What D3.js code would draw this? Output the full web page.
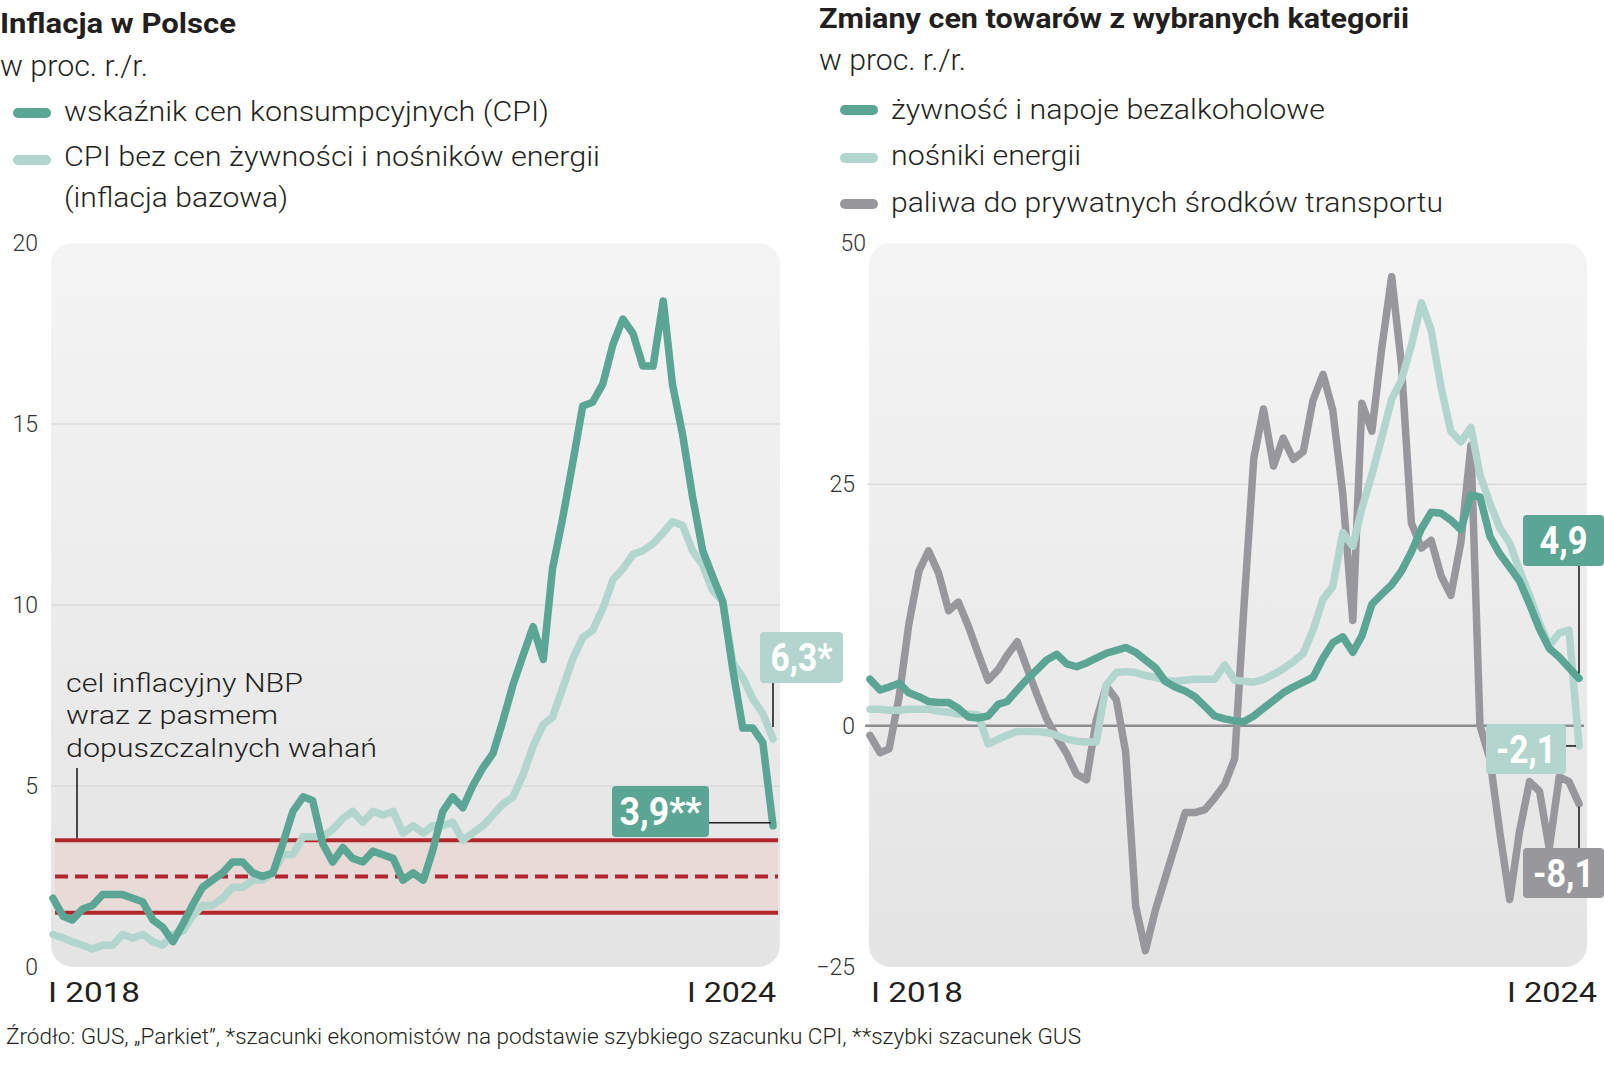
<!DOCTYPE html>
<html>
<head>
<meta charset="utf-8">
<script src="https://cdn.jsdelivr.net/npm/d3@7"></script>
<style>
  body { margin: 0; background: #fff; }
  text { font-family: Roboto, "Open Sans", sans-serif; fill: #231f20; }
</style>
</head>
<body>
<script>
// months I 2018 .. I 2024
const months = d3.timeMonth.range(new Date(2018, 0, 1), new Date(2024, 1, 1));

// left chart, % y/y
const cpi = [
  1.9, 1.4, 1.3, 1.6, 1.7, 2.0, 2.0, 2.0, 1.9, 1.8, 1.3, 1.1,
  0.7, 1.2, 1.7, 2.2, 2.4, 2.6, 2.9, 2.9, 2.6, 2.5, 2.6, 3.4,
  4.3, 4.7, 4.6, 3.4, 2.9, 3.3, 3.0, 2.9, 3.2, 3.1, 3.0, 2.4,
  2.6, 2.4, 3.2, 4.3, 4.7, 4.4, 5.0, 5.5, 5.9, 6.8, 7.8, 8.6,
  9.4, 8.5, 11.0, 12.4, 13.9, 15.5, 15.6, 16.1, 17.2, 17.9, 17.5, 16.6,
  16.6, 18.4, 16.1, 14.7, 13.0, 11.5, 10.8, 10.1, 8.2, 6.6, 6.6, 6.2,
  3.9
];
const core = [
  0.9, 0.8, 0.7, 0.6, 0.5, 0.6, 0.6, 0.9, 0.8, 0.9, 0.7, 0.6,
  0.9, 1.0, 1.4, 1.7, 1.7, 1.9, 2.2, 2.2, 2.4, 2.4, 2.6, 3.1,
  3.1, 3.6, 3.6, 3.6, 3.8, 4.1, 4.3, 4.0, 4.3, 4.2, 4.3, 3.7,
  3.9, 3.7, 3.9, 3.9, 4.0, 3.5, 3.7, 3.9, 4.2, 4.5, 4.7, 5.3,
  6.1, 6.7, 6.9, 7.7, 8.5, 9.1, 9.3, 9.9, 10.7, 11.0, 11.4, 11.5,
  11.7, 12.0, 12.3, 12.2, 11.5, 11.1, 10.4, 10.1, 8.4, 8.0, 7.4, 7.0,
  6.3
];
// NBP target band
const target = 2.5, bandLow = 1.5, bandHigh = 3.5;

// right chart, % y/y
const food = [
  4.8, 3.7, 4.0, 4.4, 3.4, 3.0, 2.5, 2.4, 2.4, 1.8, 0.9, 0.8,
  1.0, 2.2, 2.5, 3.7, 4.8, 5.8, 6.8, 7.4, 6.4, 6.1, 6.5, 7.0,
  7.5, 7.8, 8.1, 7.6, 6.8, 6.0, 4.6, 4.0, 3.6, 3.0, 2.0, 1.0,
  0.7, 0.5, 0.4, 1.0, 1.8, 2.6, 3.4, 4.0, 4.5, 5.0, 7.0, 8.6,
  9.2, 7.6, 9.3, 12.6, 13.6, 14.6, 16.0, 18.0, 20.4, 22.1, 22.0, 21.3,
  20.3, 23.9, 23.7, 19.6, 17.8, 16.4, 15.0, 12.6, 10.0, 8.0, 7.1, 6.0,
  4.9
];
const energy = [
  1.7, 1.7, 1.6, 1.6, 1.7, 1.7, 1.7, 1.5, 1.4, 1.2, 1.2, 1.1,
  -1.9, -1.4, -1.0, -0.6, -0.6, -0.6, -0.7, -1.0, -1.4, -1.6, -1.7, -1.7,
  4.2, 5.5, 5.6, 5.5, 5.2, 5.0, 4.7, 4.6, 4.7, 4.8, 4.8, 4.8,
  6.3, 4.7, 4.6, 4.5, 4.8, 5.3, 5.9, 6.6, 7.5, 9.9, 13.1, 14.4,
  20.0, 18.6, 22.5, 26.0, 29.8, 33.8, 35.8, 39.4, 43.8, 41.0, 35.0, 30.5,
  29.4, 30.9, 26.0, 23.0, 20.5, 18.9, 16.1, 13.5, 10.6, 8.3, 9.6, 9.9,
  -2.1
];
const fuel = [
  -1.0, -2.8, -2.4, 3.0, 10.5, 16.0, 18.1, 15.8, 11.9, 12.8, 10.3, 7.5,
  4.7, 5.8, 7.3, 8.7, 6.0, 3.2, 0.7, -1.2, -2.9, -5.0, -5.6, 0.5,
  4.1, 2.7, -2.7, -18.7, -23.3, -19.1, -15.8, -12.4, -9.0, -9.0, -8.7, -7.5,
  -6.1, -3.4, 12.0, 27.7, 32.8, 26.9, 29.8, 27.6, 28.4, 33.7, 36.4, 32.7,
  24.0, 10.9, 33.4, 30.5, 39.0, 46.5, 37.5, 21.0, 18.4, 19.2, 15.5, 13.5,
  19.0, 29.0, 0.0, -3.5, -11.0, -18.0, -11.0, -5.8, -6.8, -12.7, -5.3, -5.8,
  -8.1
];

const leftTicks = [0, 5, 10, 15, 20];
const rightTicks = [-25, 0, 25, 50];

const dark = '#5ba595', light = '#b2d5cd', grey = '#98989c', red = '#b3272c';

const svg = d3.select(document.body).append('svg')
  .attr('width', 1604).attr('height', 1080);

const defs = svg.append('defs');
const grad = defs.append('linearGradient').attr('id', 'panel')
  .attr('x1', 0).attr('y1', 0).attr('x2', 0).attr('y2', 1);
grad.append('stop').attr('offset', '0%').attr('stop-color', '#f4f4f4');
grad.append('stop').attr('offset', '100%').attr('stop-color', '#e4e4e4');

function txt(s, x, y, size, weight, len, anchor) {
  const t = svg.append('text').attr('x', x).attr('y', y)
    .attr('font-size', size).attr('font-weight', weight)
    .attr('text-anchor', anchor || 'start').text(s);
  if (len) t.attr('textLength', len).attr('lengthAdjust', 'spacingAndGlyphs');
  return t;
}

function swatch(x, y, color) {
  svg.append('line')
    .attr('x1', x).attr('x2', x + 28).attr('y1', y).attr('y2', y)
    .attr('stroke', color).attr('stroke-width', 10).attr('stroke-linecap', 'round');
}

function box(x, y, w, h, fill, label, tw) {
  svg.append('rect').attr('x', x).attr('y', y).attr('width', w).attr('height', h)
    .attr('rx', 4).attr('fill', fill);
  svg.append('text').attr('x', x + w / 2).attr('y', y + h / 2 + 13.5)
    .attr('text-anchor', 'middle').attr('font-size', 38).attr('font-weight', 700)
    .attr('textLength', tw).attr('lengthAdjust', 'spacingAndGlyphs')
    .style('fill', '#fff').text(label);
}

function leader(x1, y1, x2, y2) {
  svg.append('line').attr('x1', x1).attr('y1', y1).attr('x2', x2).attr('y2', y2)
    .attr('stroke', '#231f20').attr('stroke-width', 1.6);
}

// ---------- titles and legends
txt('Inflacja w Polsce', 0, 33, 27, 700, 236);
txt('w proc. r./r.', 0, 76, 29, 300, 148);
swatch(18, 113, dark);
txt('wskaźnik cen konsumpcyjnych (CPI)', 64, 121, 28, 300, 485);
swatch(18, 160, light);
txt('CPI bez cen żywności i nośników energii', 64, 166, 28, 300, 536);
txt('(inflacja bazowa)', 64, 207, 28, 300, 224);

txt('Zmiany cen towarów z wybranych kategorii', 819, 28, 27, 700, 590);
txt('w proc. r./r.', 819, 70, 29, 300, 147);
swatch(845, 110, dark);
txt('żywność i napoje bezalkoholowe', 891, 119, 28, 300, 434);
swatch(845, 158, light);
txt('nośniki energii', 891, 165, 28, 300, 190);
swatch(845, 204, grey);
txt('paliwa do prywatnych środków transportu', 891, 212, 28, 300, 552);

// ---------- left chart
const xL = d3.scaleTime().domain([months[0], months[72]]).range([53, 773]);
const yL = d3.scaleLinear().domain([0, 20]).range([967, 243]);

svg.append('rect').attr('x', 51).attr('y', 243).attr('width', 729).attr('height', 724)
  .attr('rx', 22).attr('fill', 'url(#panel)');

svg.append('g').selectAll('line').data(leftTicks.filter(d => d > 0 && d < 20)).join('line')
  .attr('x1', 51).attr('x2', 780).attr('y1', d => yL(d)).attr('y2', d => yL(d))
  .attr('stroke', '#d8dbde').attr('stroke-width', 1.5);

const axL = svg.append('g').attr('transform', 'translate(38,0)')
  .call(d3.axisLeft(yL).tickValues(leftTicks).tickSize(0).tickPadding(0));
axL.select('.domain').remove();
axL.selectAll('text').attr('font-size', 23).attr('font-weight', 300)
  .attr('font-family', 'Roboto, sans-serif').style('fill', '#333');

// target band
svg.append('rect').attr('x', 55).attr('width', 723)
  .attr('y', yL(bandHigh)).attr('height', yL(bandLow) - yL(bandHigh))
  .attr('fill', '#e7dad7');
[bandLow, bandHigh].forEach(v => {
  svg.append('line').attr('x1', 55).attr('x2', 778).attr('y1', yL(v)).attr('y2', yL(v))
    .attr('stroke', red).attr('stroke-width', 4);
});
svg.append('line').attr('x1', 55).attr('x2', 778).attr('y1', yL(target)).attr('y2', yL(target))
  .attr('stroke', red).attr('stroke-width', 4).attr('stroke-dasharray', '13 7');

const lineL = d3.line().x((d, i) => xL(months[i])).y(d => yL(d));
[[core, light], [cpi, dark]].forEach(([s, c]) => {
  svg.append('path').datum(s).attr('d', lineL)
    .attr('fill', 'none').attr('stroke', c).attr('stroke-width', 7.5)
    .attr('stroke-linejoin', 'round').attr('stroke-linecap', 'round');
});

// annotation
txt('cel inflacyjny NBP', 66, 692, 26, 300, 237);
txt('wraz z pasmem', 66, 724, 26, 300, 212);
txt('dopuszczalnych wahań', 66, 757, 26, 300, 311);
leader(77, 768, 77, yL(bandHigh) - 2);

// end labels
const lastL = xL(months[72]);
box(760, 632, 83, 51, light, '6,3*', 62);
leader(lastL, 683, lastL, yL(core[72]) - 12);
box(612, 786, 97, 51, dark, '3,9**', 82);
leader(709, yL(cpi[72]) - 3, lastL - 2, yL(cpi[72]) - 3);

txt('I 2018', 48, 1002, 28, 400, 92);
txt('I 2024', 776, 1002, 28, 400, 89, 'end');

// ---------- right chart
const xR = d3.scaleTime().domain([months[0], months[72]]).range([870, 1579]);
const yR = d3.scaleLinear().domain([-25, 50]).range([967, 243]);

svg.append('rect').attr('x', 869).attr('y', 243).attr('width', 718).attr('height', 724)
  .attr('rx', 22).attr('fill', 'url(#panel)');

svg.append('line').attr('x1', 867).attr('x2', 1586).attr('y1', yR(25)).attr('y2', yR(25))
  .attr('stroke', '#d8dbde').attr('stroke-width', 1.5);
svg.append('line').attr('x1', 865).attr('x2', 1584).attr('y1', yR(0)).attr('y2', yR(0))
  .attr('stroke', '#8d8d8f').attr('stroke-width', 2.5);

const axR = svg.append('g').attr('transform', 'translate(855,0)')
  .call(d3.axisLeft(yR).tickValues(rightTicks).tickSize(0).tickPadding(0));
axR.select('.domain').remove();
axR.selectAll('text').attr('font-size', 23).attr('font-weight', 300)
  .attr('font-family', 'Roboto, sans-serif').style('fill', '#333');
axR.selectAll('.tick text').filter(d => d === 50).attr('x', 11);

const lineR = d3.line().x((d, i) => xR(months[i])).y(d => yR(d));
[[fuel, grey], [energy, light], [food, dark]].forEach(([s, c]) => {
  svg.append('path').datum(s).attr('d', lineR)
    .attr('fill', 'none').attr('stroke', c).attr('stroke-width', 7.5)
    .attr('stroke-linejoin', 'round').attr('stroke-linecap', 'round');
});

const lastR = xR(months[72]);
box(1523, 515, 81, 51, dark, '4,9', 48);
leader(lastR, 566, lastR, yR(food[72]) - 5);
box(1486, 724, 80, 50, light, '-2,1', 60);
leader(1566, yR(energy[72]), lastR - 3, yR(energy[72]));
box(1523, 848, 81, 50, grey, '-8,1', 61);
leader(lastR, yR(fuel[72]) + 3, lastR, 848);

txt('I 2018', 871, 1002, 28, 400, 92);
txt('I 2024', 1597, 1002, 28, 400, 90, 'end');

// ---------- footer
txt('Źródło: GUS, „Parkiet”, *szacunki ekonomistów na podstawie szybkiego szacunku CPI, **szybki szacunek GUS',
  6, 1044, 22, 300, 1075);
</script>
</body>
</html>
